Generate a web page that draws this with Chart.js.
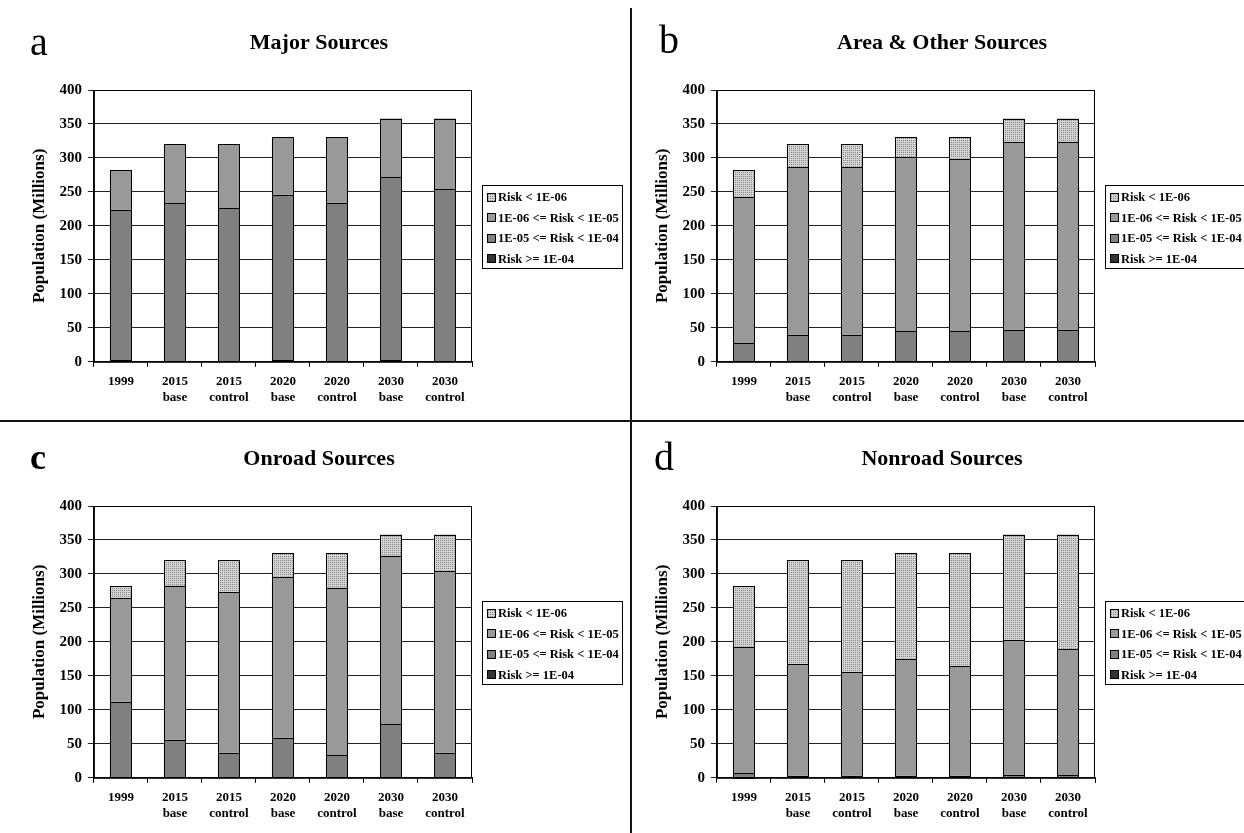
<!DOCTYPE html>
<html>
<head>
<meta charset="utf-8">
<script src="https://cdn.jsdelivr.net/npm/chart.js@4.4.1/dist/chart.umd.min.js"></script>
<style>
  html, body { margin: 0; padding: 0; background: #fff; overflow: hidden; }
  body { width: 1244px; height: 833px; position: relative; }
  canvas { position: absolute; }
  .letter { position: absolute; font-family: 'Liberation Serif', serif; color: #000; line-height: normal; }
  .vline { position: absolute; left: 630px; top: 8px; width: 2px; height: 825px; background: #111; }
  .hline { position: absolute; left: 0; top: 420px; width: 1244px; height: 2px; background: #111; }
</style>
</head>
<body>
<canvas id="chartA" width="630" height="416" style="left:0;top:0"></canvas>
<canvas id="chartB" width="630" height="416" style="left:623px;top:0"></canvas>
<canvas id="chartC" width="630" height="416" style="left:0;top:416px"></canvas>
<canvas id="chartD" width="630" height="416" style="left:623px;top:416px"></canvas>
<div class="letter" style="left:30px;top:18px;font-size:40px">a</div>
<div class="letter" style="left:659px;top:16px;font-size:40px">b</div>
<div class="letter" style="left:30px;top:436px;font-size:36px;font-weight:bold">c</div>
<div class="letter" style="left:654px;top:433px;font-size:40px">d</div>
<div class="vline"></div>
<div class="hline"></div>
<script>
// Categories and legend labels
const categories = ['1999', ['2015', 'base'], ['2015', 'control'], ['2020', 'base'], ['2020', 'control'], ['2030', 'base'], ['2030', 'control']];
const riskLabels = ['Risk >= 1E-04', '1E-05 <= Risk < 1E-04', '1E-06 <= Risk < 1E-05', 'Risk < 1E-06'];
const yTicks = [0, 50, 100, 150, 200, 250, 300, 350, 400];

// Major Sources (population in millions per risk band)
const majorHigh = [2, 1, 1, 2, 1, 2, 1];
const majorMid  = [222, 232, 225, 244, 233, 270, 253];
const majorLow  = [58, 87, 94, 85, 97, 86, 104];
const majorMin  = [0, 0, 0, 0, 0, 0, 0];

// Area & Other Sources
const areaHigh = [0.5, 0.5, 0.5, 0.5, 0.5, 1, 1];
const areaMid  = [26.5, 39.5, 39.5, 44.5, 44.5, 46, 46];
const areaLow  = [216, 246, 246, 256, 254, 277, 277];
const areaMin  = [39, 34, 34, 30, 32, 34, 34];

// Onroad Sources
const onroadHigh = [0, 0, 0, 0, 0, 0, 0];
const onroadMid  = [112, 56, 37, 59, 33, 79, 37];
const onroadLow  = [152, 227, 236, 237, 247, 248, 268];
const onroadMin  = [18, 37, 47, 35, 51, 31, 53];

// Nonroad Sources
const nonroadHigh = [1.5, 1, 1, 1, 1, 1, 1];
const nonroadMid  = [5, 2, 2, 2, 2, 3.5, 3];
const nonroadLow  = [186.5, 164, 152, 172.5, 161, 198, 185];
const nonroadMin  = [89, 153, 165, 155.5, 167, 155.5, 169];

// Stippled fill for the lowest risk band
const dotPattern = (() => {
    const c = document.createElement('canvas');
    c.width = 2; c.height = 2;
    const g = c.getContext('2d');
    g.fillStyle = '#d4d4d4';
    g.fillRect(0, 0, 2, 2);
    g.fillStyle = '#888888';
    g.fillRect(0, 0, 1, 1);
    return g.createPattern(c, 'repeat');
})();

const bandColors = ['#333333', '#808080', '#999999', dotPattern];
const serif = 'Liberation Serif';

// panel title, plot frame, crisp bar outlines and the boxed legend
const framePlugin = {
    id: 'frame',
    beforeDatasetsDraw(chart) {
        const { ctx, chartArea } = chart;
        ctx.save();
        ctx.strokeStyle = '#000';
        ctx.lineWidth = 1;
        ctx.strokeRect(chartArea.left + 0.5, chartArea.top + 0.5, chartArea.width - 1, chartArea.height);
        ctx.restore();
    },
    afterDatasetsDraw(chart) {
        const ctx = chart.ctx;
        ctx.save();
        ctx.strokeStyle = '#000';
        ctx.lineWidth = 1;
        chart.data.datasets.forEach((d, i) => {
            chart.getDatasetMeta(i).data.forEach(bar => {
                const { x, y, base, width } = bar.getProps(['x', 'y', 'base', 'width'], true);
                if (Math.abs(base - y) < 0.3) return;
                const l = Math.round(x - width / 2), r = Math.round(x + width / 2);
                const t = Math.round(y), b = Math.round(base);
                ctx.strokeRect(l + 0.5, t + 0.5, r - l - 1, Math.max(b - t, 1));
            });
        });
        ctx.restore();
    },
    afterDraw(chart, args, opts) {
        const { ctx, chartArea } = chart;
        ctx.save();
        // title, centred on the whole panel
        ctx.font = 'bold 22px "Liberation Serif"';
        ctx.textAlign = 'center';
        ctx.textBaseline = 'middle';
        ctx.fillStyle = '#000';
        ctx.fillText(opts.title, chart.width / 2 + 4, 43);

        // legend
        const left = Math.round(chartArea.right + 10);
        const top = Math.round((chartArea.top + chartArea.bottom) / 2 - 41);
        ctx.strokeStyle = '#000';
        ctx.lineWidth = 1;
        ctx.strokeRect(left + 0.5, top + 0.5, 140, 83);
        ctx.font = 'bold 12.5px "Liberation Serif"';
        ctx.textAlign = 'left';
        const ds = chart.data.datasets.slice().reverse();
        ds.forEach((d, i) => {
            const cy = top + 12 + i * 20.5;
            ctx.fillStyle = d.backgroundColor;
            ctx.fillRect(left + 5, Math.round(cy - 4.5), 9, 9);
            ctx.strokeRect(left + 5.5, Math.round(cy - 4.5) + 0.5, 8, 8);
            ctx.fillStyle = '#000';
            ctx.fillText(d.label, left + 16, cy + 1);
        });
        ctx.restore();
    }
};

function makeChart(id, title, bands) {
    const ctx = document.getElementById(id).getContext('2d');
    return new Chart(ctx, {
        type: 'bar',
        data: {
            labels: categories,
            datasets: bands.map((vals, i) => ({
                label: riskLabels[i],
                data: vals,
                backgroundColor: bandColors[i],
                borderWidth: 0,
                inflateAmount: 0,
                barPercentage: 22 / 54,
                categoryPercentage: 1.0,
            })),
        },
        options: {
            responsive: false,
            devicePixelRatio: 1,
            animation: false,
            layout: { padding: { left: 20, right: 158, top: 90, bottom: 4 } },
            plugins: {
                tooltip: { enabled: false },
                legend: { display: false },
                title: { display: false },
                frame: { title: title },
            },
            scales: {
                x: {
                    stacked: true,
                    offset: true,
                    grid: { display: true, drawOnChartArea: false, offset: true, tickLength: 5, color: '#000' },
                    border: { color: '#000' },
                    ticks: {
                        color: '#000',
                        padding: 7,
                        maxRotation: 0,
                        font: { family: serif, size: 13, weight: 'bold' },
                    },
                },
                y: {
                    stacked: true,
                    min: 0,
                    max: 400,
                    afterBuildTicks: axis => { axis.ticks = yTicks.map(v => ({ value: v })); },
                    grid: { color: '#222', tickLength: 6 },
                    border: { color: '#000' },
                    ticks: {
                        color: '#000',
                        padding: 6,
                        font: { family: serif, size: 15, weight: 'bold' },
                    },
                    title: {
                        display: true,
                        text: 'Population (Millions)',
                        color: '#000',
                        font: { family: serif, size: 17, weight: 'bold' },
                        padding: { top: 9, bottom: 4 },
                    },
                },
            },
        },
        plugins: [framePlugin],
    });
}

makeChart('chartA', 'Major Sources', [majorHigh, majorMid, majorLow, majorMin]);
makeChart('chartB', 'Area & Other Sources', [areaHigh, areaMid, areaLow, areaMin]);
makeChart('chartC', 'Onroad Sources', [onroadHigh, onroadMid, onroadLow, onroadMin]);
makeChart('chartD', 'Nonroad Sources', [nonroadHigh, nonroadMid, nonroadLow, nonroadMin]);
</script>
</body>
</html>
